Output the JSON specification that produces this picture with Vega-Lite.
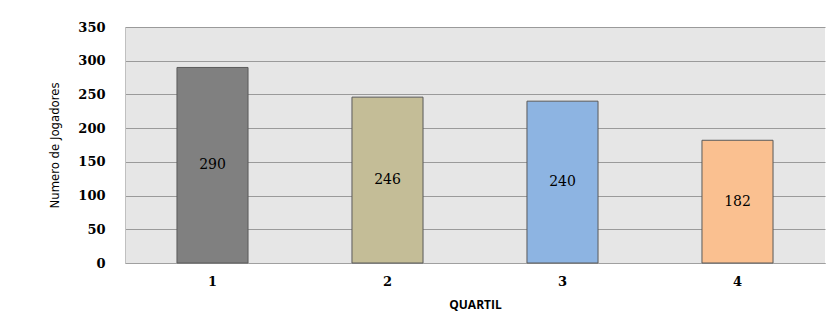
{
  "$schema": "https://vega.github.io/schema/vega-lite/v6.json",
  "autosize": {"type": "none"},
  "padding": {"left": 125, "top": 27, "right": 13, "bottom": 64},
  "width": 700,
  "height": 236,
  "background": "white",
  "config": {
    "view": {"fill": "#E6E6E6", "stroke": null},
    "axisY": {
      "values": [0, 50, 100, 150, 200, 250, 300, 350], "labelOverlap": false,
      "labelFont": "DejaVu Serif", "labelFontWeight": "bold", "labelFontSize": 13, "labelColor": "#000",
      "labelPadding": 20, "ticks": false, "domainColor": "#C0C0C0",
      "gridColor": "#9A9A9A", "gridWidth": 1,
      "titleFont": "DejaVu Sans Condensed", "titleFontWeight": "normal", "titleFontSize": 13, "titleColor": "#000", "titlePadding": 16
    }
  },
  "data": {
    "values": [
      {"quartil": "1", "jogadores": 290},
      {"quartil": "2", "jogadores": 246},
      {"quartil": "3", "jogadores": 240},
      {"quartil": "4", "jogadores": 182}
    ]
  },
  "encoding": {
    "x": {
      "field": "quartil", "type": "nominal",
      "scale": {"paddingInner": 0.594, "paddingOuter": 0.297},
      "axis": {
        "title": "QUARTIL", "labelAngle": 0, "labelOverlap": false,
        "labelFont": "DejaVu Serif", "labelFontWeight": "bold", "labelFontSize": 13, "labelColor": "#000",
        "labelPadding": 12, "ticks": false, "domainColor": "#A0A0A0",
        "titleFont": "Open Sans", "titleFontWeight": "bold", "titleFontSize": 12, "titleColor": "#000", "titlePadding": 11
      }
    }
  },
  "layer": [
    {
      "mark": {"type": "bar", "stroke": "#5A5A5A", "strokeWidth": 1},
      "encoding": {
        "y": {
          "field": "jogadores", "type": "quantitative",
          "scale": {"domain": [0, 350], "nice": false},
          "axis": {"title": "Numero de Jogadores", "values": [0, 50, 100, 150, 200, 250, 300, 350]}
        },
        "color": {
          "field": "quartil", "type": "nominal",
          "scale": {"domain": ["1", "2", "3", "4"], "range": ["#808080", "#C4BD97", "#8DB4E2", "#FAC090"]},
          "legend": null
        }
      }
    },
    {
      "transform": [{"calculate": "datum.jogadores / 2", "as": "meio"}],
      "mark": {"type": "text", "font": "DejaVu Serif", "fontSize": 14, "color": "#000", "baseline": "middle"},
      "encoding": {
        "y": {"field": "meio", "type": "quantitative", "axis": {"title": "Numero de Jogadores", "values": [0, 50, 100, 150, 200, 250, 300, 350]}},
        "text": {"field": "jogadores", "type": "quantitative"}
      }
    }
  ]
}
